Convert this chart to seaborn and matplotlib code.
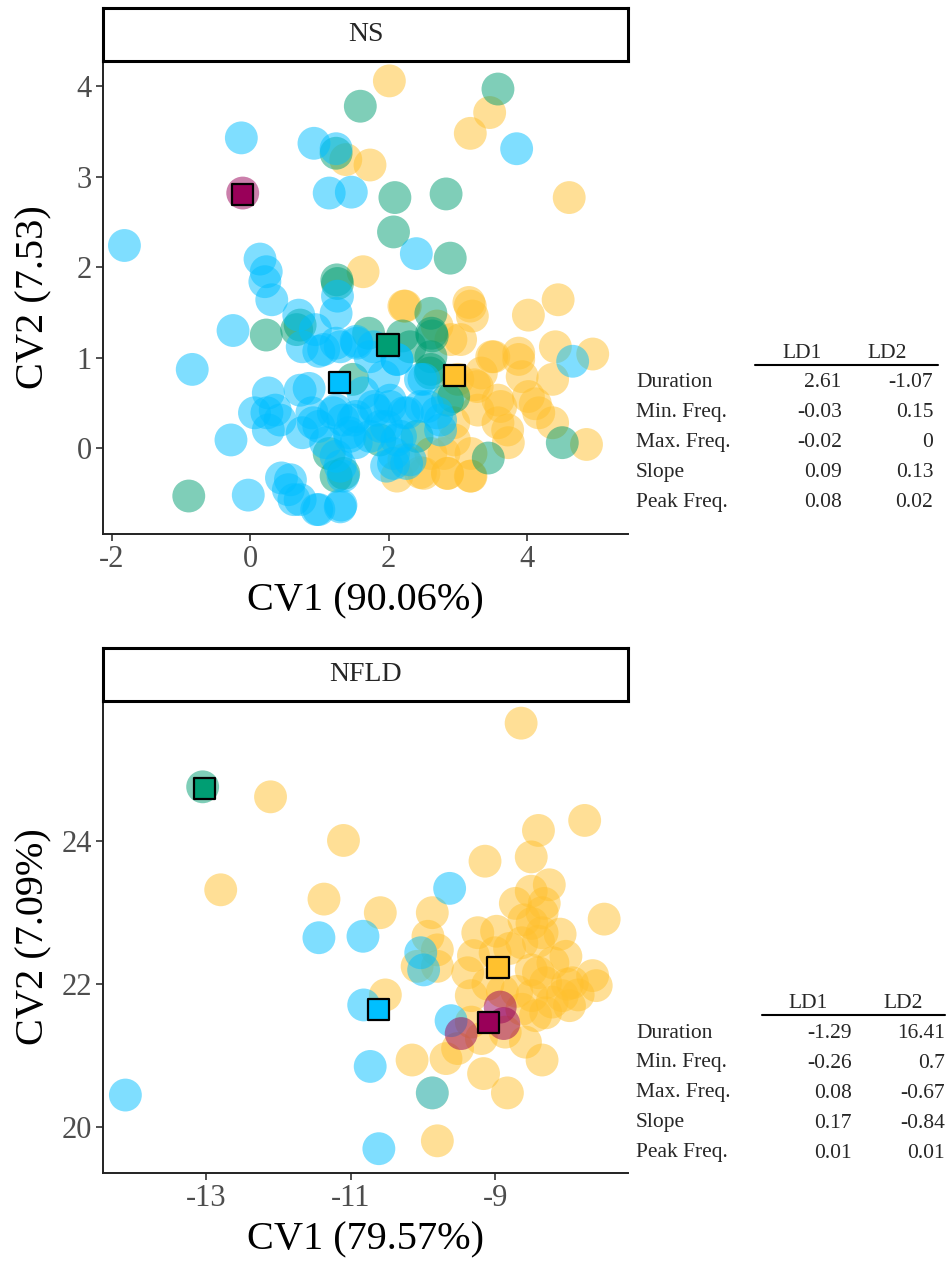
import numpy as np
import pandas as pd
import matplotlib
matplotlib.use("Agg")
import matplotlib.pyplot as plt
import seaborn as sns
from matplotlib.lines import Line2D

sns.set_theme(style="ticks")
plt.rcParams['font.family'] = ['Liberation Serif', 'DejaVu Serif']
plt.rcParams['axes.unicode_minus'] = False

# ---------------- data: NS panel ----------------
ns_cyan_x = [-1.82, -0.13, 0.92, 1.24, 3.85, 1.14, 1.46, 2.40, 0.14, 0.23, 0.21, 0.31, 0.70, -0.25, 1.24, 1.26,
             -0.84, 4.66, 0.75, 0.99, 1.24, 1.53, 1.73, 2.12, 0.85, 0.26, 0.06, 0.36, 0.26, -0.28, 0.89, 0.99,
             1.24, 1.53, 1.82, 2.02, 2.22, 2.46, 2.70, 2.75, 1.43, 1.73, 1.97, 2.12, 1.24, 1.34, 1.97, 2.26,
             -0.03, 0.45, 0.55, 0.63, 0.99, 1.31, 1.34, 1.63, 2.51, 0.75, 1.09, 1.53, 2.07, 2.75, 0.94,
             1.06, 1.30, 1.54, 1.78, 1.20, 1.49, 1.78, 2.02, 2.27, 2.56, 1.44, 1.88, 2.17, 0.91, 0.72,
             2.07, 2.31, 1.30, 1.93, 2.12, 2.46, 0.24, 0.43, 0.58, 0.72, 1.30, 0.96]
ns_cyan_y = [2.24, 3.43, 3.37, 3.31, 3.31, 2.82, 2.83, 2.15, 2.09, 1.95, 1.84, 1.64, 1.47, 1.30, 1.49, 1.68,
             0.87, 0.96, 1.12, 1.07, 1.16, 1.18, 1.01, 0.98, 0.66, 0.61, 0.39, 0.42, 0.20, 0.09, 0.39, 0.24,
             0.42, 0.35, 0.42, 0.46, 0.39, 0.46, 0.39, 0.20, 0.17, 0.13, 0.24, 0.09, -0.09, -0.31, -0.20, -0.17,
             -0.52, -0.33, -0.46, -0.57, -0.68, -0.63, 0.31, 0.61, 0.76, 0.17, 0.06, 0.06, -0.06, 0.31, 1.31,
             1.09, 1.12, 1.16, 1.12, 0.39, 0.31, 0.46, 0.53, 0.39, 0.46, 0.13, 0.24, 0.13, 0.28, 0.64,
             -0.17, -0.13, -0.20, 0.79, 0.98, 0.76, 0.39, 0.31, -0.35, -0.57, -0.65, -0.68]
ns_green_x = [1.59, 3.58, 2.09, 2.83, 2.07, 2.89, 1.25, 1.26, 1.24, 0.23, 0.72, 2.61, 1.71, 2.20, 2.63, 2.61,
              2.61, 2.85, 4.51, 3.44, -0.89, 1.14, 1.24, 1.48, 1.87, 2.41, 0.67, 2.62, 2.31, 1.35, 2.60, 2.94]
ns_green_y = [3.78, 3.97, 2.77, 2.81, 2.39, 2.10, 1.86, 1.82, 3.26, 1.25, 1.36, 1.49, 1.27, 1.24, 1.24, 1.01,
              0.87, 0.53, 0.06, -0.11, -0.53, -0.06, -0.31, 0.76, 0.09, 0.13, 1.31, 1.27, 1.12, -0.28, 0.83, 0.57]
ns_orange_x = [2.01, 3.46, 3.18, 1.73, 1.38, 4.61, 1.63, 2.22, 3.16, 3.21, 4.02, 4.45, 4.95, 4.41, 3.49, 3.88,
               3.93, 4.37, 3.24, 3.58, 4.02, 4.17, 4.37, 4.86, 3.73, 3.58, 2.95, 3.19, 2.85, 2.51, 2.12, 2.90,
               2.70, 3.00, 3.29, 2.61, 3.19, 3.88, 4.12, 3.34, 2.22, 2.24, 3.18, 3.52, 3.28, 3.62, 3.72, 2.94,
               2.80, 2.85, 3.18, 2.46, 3.04]
ns_orange_y = [4.06, 3.71, 3.48, 3.13, 3.19, 2.77, 1.95, 1.57, 1.61, 1.46, 1.47, 1.64, 1.04, 1.12, 1.01, 1.05,
               0.79, 0.76, 0.70, 0.53, 0.57, 0.39, 0.28, 0.04, 0.06, 0.28, 0.09, -0.31, -0.28, -0.28, -0.31, 1.20,
               1.35, 0.76, 0.42, -0.06, -0.06, 0.98, 0.49, 0.83, -0.13, 1.57, 1.57, 1.01, 0.68, 0.46, 0.20, 0.28,
               -0.06, -0.28, -0.31, -0.27, 1.20]
ns_purple_x = [-0.11]
ns_purple_y = [2.82]
ns_mean_group = ["Cyan", "Green", "Orange", "Purple"]
ns_mean_x = [1.29, 1.99, 2.95, -0.11]
ns_mean_y = [0.72, 1.14, 0.80, 2.80]

# ---------------- data: NFLD panel ----------------
nfld_orange_x = [-8.64, -12.11, -7.76, -8.40, -11.10, -8.50, -9.14, -12.80, -8.25, -11.37, -8.32, -7.49, -10.59,
                 -9.87, -9.93, -9.80, -9.24, -8.98, -8.49, -8.35, -8.63, -10.08, -9.38, -8.40, -8.02, -7.93,
                 -7.65, -7.60, -8.07, -7.97, -8.30, -8.49, -9.33, -8.63, -8.44, -8.21, -10.52, -8.58, -8.35,
                 -9.68, -10.15, -9.16, -8.83, -9.87, -9.80, -9.19, -8.86, -9.00, -8.72, -9.33, -9.52, -9.80,
                 -8.60, -8.40, -8.20, -8.50, -8.00, -8.30, -8.70, -9.10, -9.30, -8.80, -8.10, -8.50, -8.35,
                 -7.85, -8.90]
nfld_orange_y = [25.65, 24.62, 24.29, 24.15, 24.01, 23.78, 23.72, 23.32, 23.39, 23.19, 23.13, 22.91, 23.00,
                 23.00, 22.67, 22.48, 22.72, 22.74, 22.85, 22.72, 22.58, 22.25, 22.16, 22.16, 22.39, 22.02,
                 22.12, 21.98, 21.84, 21.70, 22.02, 21.84, 21.84, 21.65, 21.56, 21.75, 21.85, 21.19, 20.94,
                 20.96, 20.94, 20.75, 20.48, 20.48, 19.81, 21.24, 21.33, 22.44, 23.13, 21.47, 21.10, 22.25,
                 22.90, 22.60, 22.30, 22.20, 22.00, 21.60, 21.90, 22.00, 22.40, 22.50, 22.70, 23.30, 23.00,
                 21.85, 21.90]
nfld_cyan_x = [-9.63, -11.44, -10.83, -10.03, -9.99, -10.82, -9.61, -10.73, -14.12, -10.61, -9.87]
nfld_cyan_y = [23.34, 22.65, 22.67, 22.44, 22.20, 21.71, 21.49, 20.85, 20.45, 19.70, 20.48]
nfld_green_x = [-13.05]
nfld_green_y = [24.76]
nfld_purple_x = [-8.93, -8.88, -9.47]
nfld_purple_y = [21.68, 21.45, 21.31]
nfld_mean_group = ["Cyan", "Green", "Orange", "Purple"]
nfld_mean_x = [-10.61, -13.02, -8.96, -9.09]
nfld_mean_y = [21.65, 24.73, 22.24, 21.47]

# ---------------- coefficient tables ----------------
table_rows = ["Duration", "Min. Freq.", "Max. Freq.", "Slope", "Peak Freq."]
ns_ld1 = ["2.61", "-0.03", "-0.02", "0.09", "0.08"]
ns_ld2 = ["-1.07", "0.15", "0", "0.13", "0.02"]
nfld_ld1 = ["-1.29", "-0.26", "0.08", "0.17", "0.01"]
nfld_ld2 = ["16.41", "0.7", "-0.67", "-0.84", "0.01"]

palette = {"Cyan": "#00BFFF", "Green": "#009E73", "Orange": "#FFC12E", "Purple": "#990059"}
order = ["Orange", "Green", "Cyan", "Purple"]


def points_df(d):
    frames = []
    for g in order:
        xs, ys = d[g]
        frames.append(pd.DataFrame({"CV1": xs, "CV2": ys, "group": g}))
    return pd.concat(frames, ignore_index=True)


ns_df = points_df({"Cyan": (ns_cyan_x, ns_cyan_y), "Green": (ns_green_x, ns_green_y),
                   "Orange": (ns_orange_x, ns_orange_y), "Purple": (ns_purple_x, ns_purple_y)})
nfld_df = points_df({"Cyan": (nfld_cyan_x, nfld_cyan_y), "Green": (nfld_green_x, nfld_green_y),
                     "Orange": (nfld_orange_x, nfld_orange_y), "Purple": (nfld_purple_x, nfld_purple_y)})
ns_means = pd.DataFrame({"CV1": ns_mean_x, "CV2": ns_mean_y, "group": ns_mean_group})
nfld_means = pd.DataFrame({"CV1": nfld_mean_x, "CV2": nfld_mean_y, "group": nfld_mean_group})

W, H = 950, 1264
fig = plt.figure(figsize=(W / 100, H / 100), dpi=100)


def rect(left, top, right, bottom):
    return [left / W, 1 - bottom / H, (right - left) / W, (bottom - top) / H]


def panel(ax_box, strip_box, title, df, means, xlim, ylim, xticks, yticks, xlabel, ylabel):
    ax = fig.add_axes(rect(*ax_box))
    sns.scatterplot(data=df, x="CV1", y="CV2", hue="group", palette=palette, hue_order=order,
                    s=560, alpha=0.5, linewidth=0, ax=ax, legend=False)
    sns.scatterplot(data=means, x="CV1", y="CV2", hue="group", palette=palette, hue_order=order,
                    marker="s", s=230, edgecolor="black", linewidth=1.6, alpha=1, ax=ax, legend=False)
    ax.set_xlim(*xlim)
    ax.set_ylim(*ylim)
    ax.set_xticks(xticks)
    ax.set_yticks(yticks)
    for side in ["top", "right"]:
        ax.spines[side].set_visible(False)
    for side in ["left", "bottom"]:
        ax.spines[side].set_color("#222222")
        ax.spines[side].set_linewidth(1.4)
    ax.tick_params(axis="both", length=5, width=1.2, color="#333333", labelcolor="#4D4D4D",
                   labelsize=22, pad=3)
    ax.set_xlabel(xlabel, fontsize=29, color="black", labelpad=6)
    ax.set_ylabel(ylabel, fontsize=29, color="black")
    ax.yaxis.set_label_coords(-0.096, 0.5)
    ax.grid(False)
    ax.set_facecolor("white")

    sax = fig.add_axes(rect(*strip_box))
    sax.set_xticks([])
    sax.set_yticks([])
    for sp in sax.spines.values():
        sp.set_visible(True)
        sp.set_color("black")
        sp.set_linewidth(2.2)
    sax.set_facecolor("white")
    sax.text(0.5, 0.5, title, ha="center", va="center", fontsize=20, transform=sax.transAxes)
    return ax


panel((103, 61, 628, 534), (103, 8, 628, 61), "NS", ns_df, ns_means,
      (-2.13, 5.46), (-0.95, 4.28), [-2, 0, 2, 4], [0, 1, 2, 3, 4], "CV1 (90.06%)", "CV2 (7.53)")
panel((103, 701, 628, 1173), (103, 648, 628, 701), "NFLD", nfld_df, nfld_means,
      (-14.43, -7.16), (19.36, 25.96), [-13, -11, -9], [20, 22, 24], "CV1 (79.57%)", "CV2 (7.09%)")


def table(header_y, h1_x, h2_x, line_x0, line_x1, line_y, row0_y, ld1_right, ld2_right, ld1, ld2):
    fs = 15.5
    fig.text(h1_x / W, 1 - header_y / H, "LD1", ha="center", va="center", fontsize=fs)
    fig.text(h2_x / W, 1 - header_y / H, "LD2", ha="center", va="center", fontsize=fs)
    fig.add_artist(Line2D([line_x0 / W, line_x1 / W], [1 - line_y / H, 1 - line_y / H],
                          color="black", linewidth=1.5, transform=fig.transFigure))
    for i, name in enumerate(table_rows):
        y = 1 - (row0_y + 30 * i) / H
        fig.text(636 / W, y, name, ha="left", va="center", fontsize=fs)
        fig.text(ld1_right / W, y, ld1[i], ha="right", va="center", fontsize=fs)
        fig.text(ld2_right / W, y, ld2[i], ha="right", va="center", fontsize=fs)


table(353, 801.7, 886.7, 755, 938, 365, 382.7, 841.7, 933.3, ns_ld1, ns_ld2)
table(1003, 808, 903, 761.7, 945, 1015, 1033, 851.7, 945, nfld_ld1, nfld_ld2)

fig.savefig("out.png", dpi=100)
